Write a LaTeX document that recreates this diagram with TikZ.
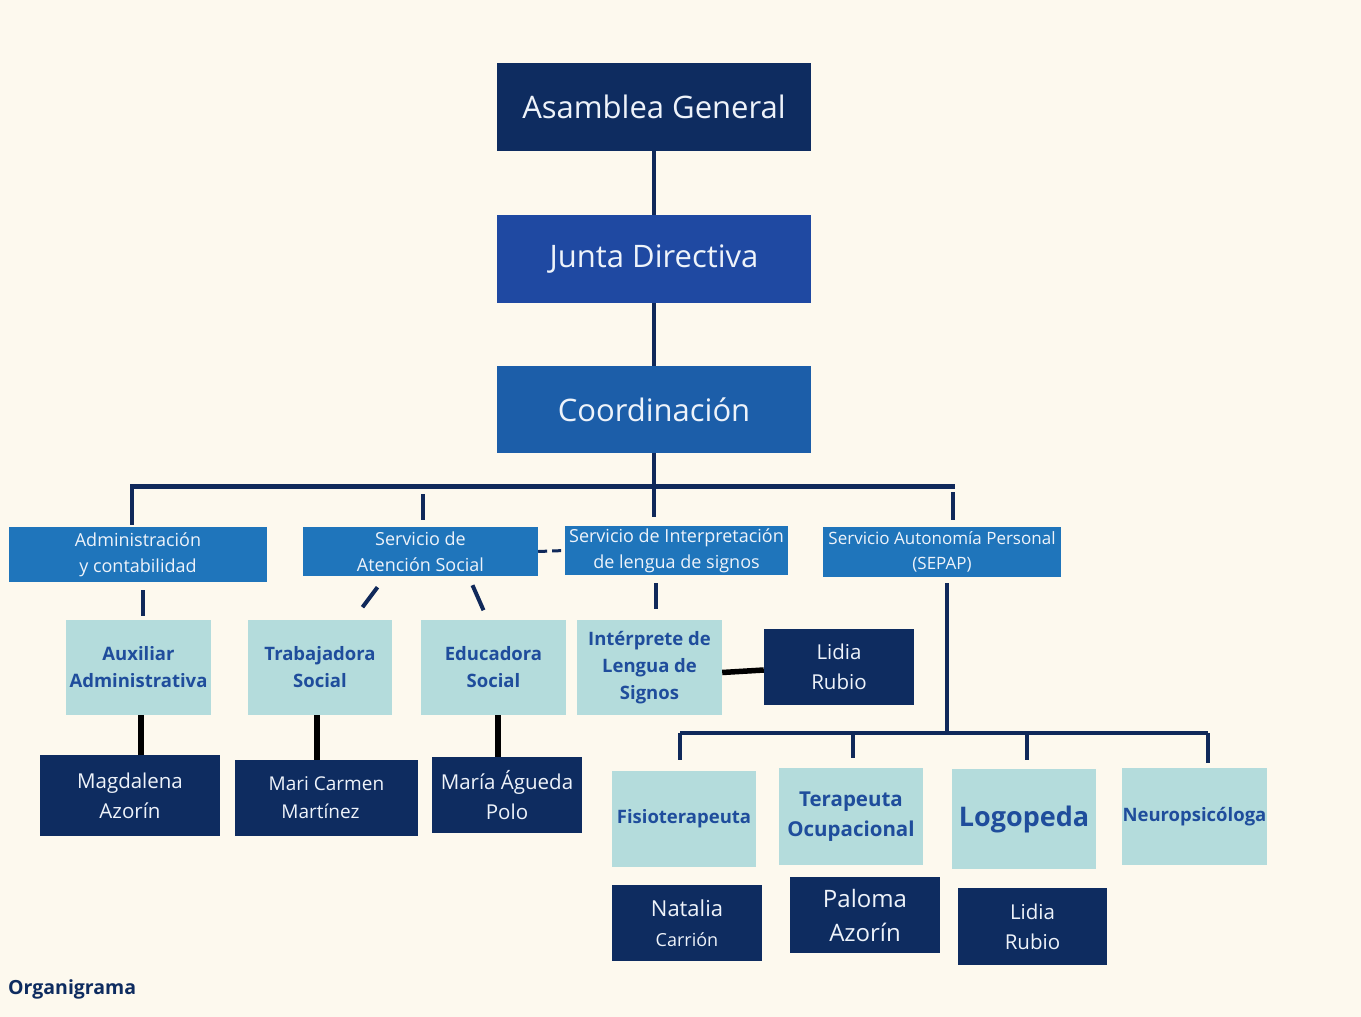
\documentclass[tikz,border=0pt]{standalone}
\usepackage{fontspec}
\setmainfont{Open Sans}
\usetikzlibrary{calc}

\definecolor{crema}{HTML}{FDF9EE}
\definecolor{marino}{HTML}{0E2C60}
\definecolor{juntaazul}{HTML}{1F49A2}
\definecolor{coordazul}{HTML}{1C5EA9}
\definecolor{servazul}{HTML}{1F75BB}
\definecolor{celeste}{HTML}{B4DCDC}
\definecolor{rolazul}{HTML}{1F4D9C}
\definecolor{linea}{HTML}{10295A}
\definecolor{blanco}{HTML}{EEF3FA}

\tikzset{
  caja/.style={rectangle, inner sep=0pt, align=center, text=blanco},
  cajaTop/.style={caja, minimum width=314, minimum height=88, font=\fontsize{31}{36}\selectfont},
  cajaServ/.style={caja, fill=servazul, font=\fontsize{18}{26}\selectfont},
  cajaRol/.style={caja, fill=celeste, text=rolazul, font=\bfseries\fontsize{18.5}{27}\selectfont},
  cajaNombre/.style={caja, fill=marino, minimum width=150, minimum height=76, font=\fontsize{20.5}{30}\selectfont},
  enlace/.style={draw=linea, line width=4},
  barra/.style={draw=linea, line width=5},
  enlaceNegro/.style={draw=black, line width=5.5}
}

\begin{document}
\begin{tikzpicture}[x=1pt, y=-1pt]

% Background and page size
\fill[crema] (0,0) rectangle (1361,1017);
\useasboundingbox (0,0) rectangle (1361,1017);

% Top levels
\node[cajaTop, fill=marino] (asamblea) at (654,107) {Asamblea General};
\node[cajaTop, fill=juntaazul] (junta) at (654,259) {Junta Directiva};
\node[cajaTop, fill=coordazul, minimum height=87] (coord) at (654,409.5) {Coordinación};

% Services
\node[cajaServ, minimum width=258, minimum height=55] (admin) at (138,554.5) {Administración\\y contabilidad};
\node[cajaServ, minimum width=235, minimum height=49] (sas) at (420.5,551.5) {Servicio de\\Atención Social};
\node[cajaServ, minimum width=223, minimum height=49] (sil) at (676.5,550.5) {Servicio de Interpretación\\de lengua de signos};
\node[cajaServ, minimum width=238, minimum height=50, font=\fontsize{17}{25}\selectfont] (sepap) at (942,552) {Servicio Autonomía Personal\\(SEPAP)};

% Roles
\node[cajaRol, minimum width=145, minimum height=95] (aux) at (138.5,667.5) {Auxiliar\\Administrativa};
\node[cajaRol, minimum width=144, minimum height=95] (trab) at (320,667.5) {Trabajadora\\Social};
\node[cajaRol, minimum width=145, minimum height=95] (educ) at (493.5,667.5) {Educadora\\Social};
\node[cajaRol, minimum width=145, minimum height=95] (interp) at (649.5,667.5) {Intérprete de\\Lengua de\\Signos};
\node[cajaRol, minimum width=144, minimum height=96] (fisio) at (684,819) {Fisioterapeuta};
\node[cajaRol, minimum width=144, minimum height=97, font=\bfseries\fontsize{20.5}{30}\selectfont] (terap) at (851,816.5) {Terapeuta\\Ocupacional};
\node[cajaRol, minimum width=144, minimum height=100, font=\bfseries\fontsize{27}{32}\selectfont] (logo) at (1024,819) {Logopeda};
\node[cajaRol, minimum width=145, minimum height=97] (neuro) at (1194.5,816.5) {Neuropsicóloga};

% Names
\node[cajaNombre] (lidiaA) at (839,667) {Lidia\\Rubio};
\node[cajaNombre, minimum width=180, minimum height=81] (magda) at (130,795.5) {Magdalena\\Azorín};
\node[cajaNombre, minimum width=183, font=\fontsize{19}{28}\selectfont] (mari) at (326.5,798) {Mari Carmen\\Martínez\hspace*{12pt}};
\node[cajaNombre] (polo) at (507,795) {María Águeda\\Polo};
\node[cajaNombre] (natalia) at (687,923) {\fontsize{22}{30}\selectfont Natalia\\\fontsize{18}{24}\selectfont Carrión};
\node[cajaNombre, font=\fontsize{24}{34}\selectfont] (paloma) at (865,915) {Paloma\\Azorín};
\node[cajaNombre, minimum width=149, minimum height=77] (lidiaB) at (1032.5,926.5) {Lidia\\Rubio};

% Caption
\node[anchor=west, inner sep=0pt, text=marino, font=\bfseries\fontsize{19.5}{24}\selectfont] (titulo) at (8,989) {Organigrama};

% Main line
\draw[enlace] (asamblea) -- (junta);
\draw[enlace] (junta) -- (coord);
\coordinate (barL) at (130,486);
\coordinate (barR) at (955,486);
\draw[barra] (barL) -- (barR);
\draw[enlace, shorten >=9] (coord.south) -- (coord.south |- sil.north);

% Drops to services
\draw[enlace, shorten >=2] ([xshift=2]barL) -- ([xshift=2]barL |- admin.north);
\draw[enlace, shorten <=8, shorten >=7] ([xshift=2.5]sas.north |- barL) -- ([xshift=2.5]sas.north);
\draw[enlace, shorten <=6, shorten >=7] ([xshift=-2]barR) -- ([xshift=-2]barR |- sepap.north);
\draw[enlace, dashed, dash pattern=on 9 off 5, line width=3] (sas.east) -- (sil.west);

% Services to roles
\draw[enlace, shorten <=8, shorten >=4] ([xshift=4.5]admin.south) -- ([xshift=4.5]admin.south |- aux.north);
\draw[enlace] ([xshift=-43,yshift=-11]sas.south) -- ([xshift=-58,yshift=-31]sas.south);
\draw[enlace] ([xshift=52,yshift=-9]sas.south) -- ([xshift=63,yshift=-34]sas.south);
\draw[enlace, shorten <=8, shorten >=11] ([xshift=6.5]interp.north |- sil.south) -- ([xshift=6.5]interp.north);

% SEPAP branch
\coordinate (lowL) at (680,733);
\coordinate (lowR) at (1208,733);
\draw[enlace, shorten <=6] ([xshift=5]sepap.south) -- ([xshift=5]sepap.south |- lowL);
\draw[enlace] (lowL) -- (lowR);
\draw[enlace, shorten >=11] (lowL) -- (lowL |- fisio.north);
\draw[enlace, shorten >=10] ([xshift=2]terap.north |- lowL) -- ([xshift=2]terap.north);
\draw[enlace, shorten >=9] ([xshift=3]logo.north |- lowL) -- ([xshift=3]logo.north);
\draw[enlace, shorten >=5] (lowR) -- (lowR |- neuro.north);

% Roles to names
\draw[enlaceNegro] ([xshift=2.5]aux.south) -- ([xshift=2.5]aux.south |- magda.north);
\draw[enlaceNegro] ([xshift=-3]trab.south) -- ([xshift=-3]trab.south |- mari.north);
\draw[enlaceNegro] ([xshift=4.5]educ.south) -- ([xshift=4.5]educ.south |- polo.north);
\draw[enlaceNegro] ([yshift=-5]interp.east) -- ([yshift=-3]lidiaA.west);

\end{tikzpicture}
\end{document}
